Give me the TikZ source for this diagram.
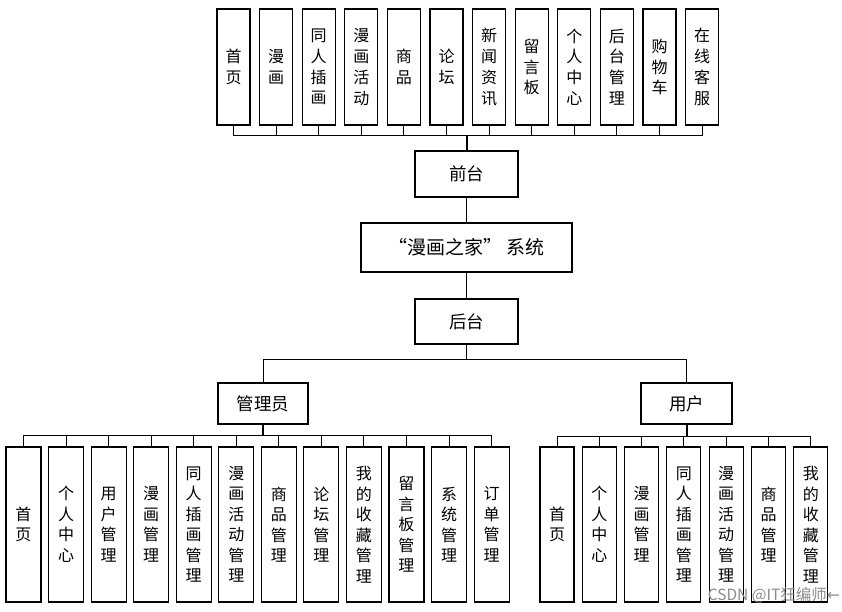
\documentclass[tikz,border=0pt]{standalone}
\usepackage{fontspec}
\newfontfamily\cjk{Noto Sans CJK SC}
\newfontfamily\dejavu{DejaVu Sans}
\begin{document}
\begin{tikzpicture}[x=1pt,y=-1pt,
  box/.style={draw, line width=1.1pt, inner sep=0pt, align=center, fill=white},
  topbox/.style={box, minimum width=33pt, minimum height=116pt, font=\cjk\fontsize{16}{20.8}\selectfont},
  lowbox/.style={box, minimum width=35pt, minimum height=155pt, font=\cjk\fontsize{16}{20.5}\selectfont},
  midbox/.style={box, font=\cjk\fontsize{17.5}{20}\selectfont},
  conn/.style={line width=1pt},
  trunk/.style={line width=2pt}]
\useasboundingbox (0,0) rectangle (842,612);
% top row
\foreach \t [count=\i from 0] in {首\\页,漫\\画,同\\人\\插\\画,漫\\画\\活\\动,商\\品,论\\坛,新\\闻\\资\\讯,留\\言\\板,个\\人\\中\\心,后\\台\\管\\理,购\\物\\车,在\\线\\客\\服}
  \node[topbox] (t\i) at ({233.5+42.6*\i},67) {\t};
% middle
\node[midbox, minimum width=103pt, minimum height=46pt] (front) at (466.5,174) {前台};
\node[midbox, minimum width=211pt, minimum height=49pt, font=\cjk\fontsize{19}{22}\selectfont] (sys) at (466.5,247.5) {“漫画之家”\,系统};
\node[midbox, minimum width=103pt, minimum height=45pt] (back) at (466.5,321.5) {后台};
\node[midbox, minimum width=90pt, minimum height=41pt] (admin) at (263,403.5) {管理员};
\node[midbox, minimum width=91pt, minimum height=41pt] (user) at (686.5,403.5) {用户};
% bottom left
\foreach \t [count=\i from 0] in {首\\页,个\\人\\中\\心,用\\户\\管\\理,漫\\画\\管\\理,同\\人\\插\\画\\管\\理,漫\\画\\活\\动\\管\\理,商\\品\\管\\理,论\\坛\\管\\理,我\\的\\收\\藏\\管\\理,留\\言\\板\\管\\理,系\\统\\管\\理,订\\单\\管\\理}
  \node[lowbox] (a\i) at ({23.5+42.55*\i},524.5) {\t};
% bottom right
\foreach \t [count=\i from 0] in {首\\页,个\\人\\中\\心,漫\\画\\管\\理,同\\人\\插\\画\\管\\理,漫\\画\\活\\动\\管\\理,商\\品\\管\\理,我\\的\\收\\藏\\管\\理}
  \node[lowbox, minimum width=34pt] (u\i) at ({557+42.3*\i},524.5) {\t};
% connectors top
\coordinate (busT) at (466.5,136);
\foreach \i in {0,...,11} \draw[conn] (t\i.south) -- (t\i.south |- busT);
\draw[conn] (t0.south |- busT) -- (t11.south |- busT);
\draw[trunk] (busT) -- (front.north);
\draw[conn] (front.south) -- (sys.north);
\draw[conn] (sys.south) -- (back.north);
\coordinate (busM) at (466.5,359);
\draw[conn] (back.south) -- (busM);
\draw[conn] (admin.north |- busM) -- (user.north |- busM);
\draw[conn] (admin.north |- busM) -- (admin.north);
\draw[conn] (user.north |- busM) -- (user.north);
% admin bus
\coordinate (busA) at (263,435);
\draw[trunk] (admin.south) -- (busA);
\foreach \i in {0,...,11} \draw[conn] (a\i.north) -- (a\i.north |- busA);
\draw[conn] (a0.north |- busA) -- (a11.north |- busA);
% user bus
\coordinate (busU) at (686.5,436);
\draw[trunk] (user.south) -- (busU);
\foreach \i in {0,...,6} \draw[conn] (u\i.north) -- (u\i.north |- busU);
\draw[conn] (u0.north |- busU) -- (u6.north |- busU);
% watermark
\node[anchor=east, inner sep=0pt, text=black!45, font=\cjk\fontsize{15.5}{17}\selectfont] (wm) at (840,595) {CSDN @IT狂编师{\dejavu ←}};
\end{tikzpicture}
\end{document}
